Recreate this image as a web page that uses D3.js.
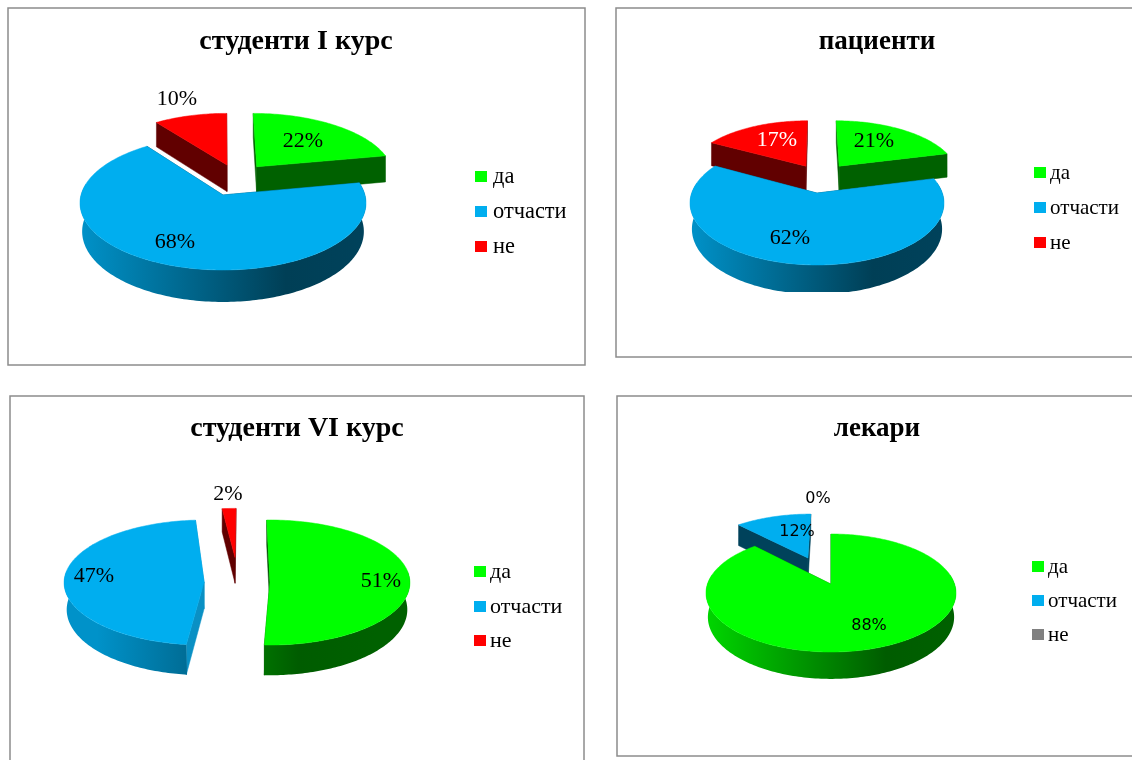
<!DOCTYPE html>
<html>
<head>
<meta charset="utf-8">
<script src="https://cdnjs.cloudflare.com/ajax/libs/d3/7.8.5/d3.min.js"></script>
<style>
  html, body { margin: 0; padding: 0; background: #fff; overflow: hidden; }
  svg { display: block; filter: blur(0.35px); }
  text { font-family: "Liberation Serif", serif; fill: #000; }
</style>
</head>
<body>
<svg id="chart" width="1132" height="760"></svg>
<script>
(function () {
    'use strict';

    // values, in percent
    var categories = ['да', 'отчасти', 'не'],
        firstYear = [22, 68, 10],
        patients = [21, 62, 17],
        sixthYear = [51, 47, 2],
        doctors = [88, 12, 0];

    var green = '#00ff00', blue = '#00aeef', red = '#ff0000', grey = '#808080';

    // du/dv: how far a slice is pulled out, in units of the pie radius
    var panels = [
        {
            title: 'студенти I курс', values: firstYear, colors: [green, blue, red],
            frame: [8, 8, 577, 357], titleAt: [296, 49], titleSize: 28,
            pie: { cx: 223, cy: 203, rx: 143, ry: 67, a: -0.12, depth: 28.5 },
            slices: [{ du: 0.25, dv: -0.45 }, { du: 0, dv: 0 }, { du: 0.03, dv: -0.48, r: 0.97 }],
            labels: [[303, 147], [175, 248], [177, 105]],
            labelSize: 22,
            legend: { x: 475, tx: 493, y: [171, 206, 241], size: 22.4 }
        },
        {
            title: 'пациенти', values: patients, colors: [green, blue, red],
            frame: [616, 8, 540, 349], titleAt: [877, 49], titleSize: 27,
            pie: { cx: 817, cy: 203, rx: 127, ry: 62, a: -0.16, depth: 26 },
            clipBottom: 292,
            slices: [{ du: 0.19, dv: -0.48 }, { du: 0, dv: 0 }, { du: -0.095, dv: -0.48 }],
            labels: [[874, 147], [790, 244], [777, 146]],
            labelFill: [null, null, '#fff'],
            labelSize: 22,
            legend: { x: 1034, tx: 1050, y: [167, 202, 237], size: 21 }
        },
        {
            title: 'студенти VI курс', values: sixthYear, colors: [green, blue, red],
            frame: [10, 396, 574, 380], titleAt: [297, 436], titleSize: 28,
            pie: { cx: 237, cy: 582.5, rx: 140, ry: 62.5, a: -0.01, depth: 27 },
            slices: [
                { du: 0.235, dv: 0, shift: -1.2, wallFill: '#004a00' },
                { du: -0.235, dv: 0, shift: 3.5, wallFill: '#0a90c4' },
                { du: -0.014, dv: -0.39, shift: 0.5, r: 0.8 }
            ],
            labels: [[381, 587], [94, 582], [228, 500]],
            labelSize: 22,
            legend: { x: 474, tx: 490, y: [566, 601, 635], size: 22 }
        },
        {
            title: 'лекари', values: doctors, colors: [green, blue, grey],
            frame: [617, 396, 540, 360], titleAt: [877, 436], titleSize: 27,
            pie: { cx: 831, cy: 593, rx: 125, ry: 59, a: -0.15, depth: 24 },
            slices: [{ du: 0, dv: 0 }, { du: -0.2, dv: -0.486 }, { du: 0, dv: -0.5 }],
            labels: [[869, 630], [797, 536], [818, 503]],
            labelFont: '"DejaVu Sans", sans-serif', labelSize: 16,
            legend: { x: 1032, tx: 1048, y: [561, 595, 629], size: 21 }
        }
    ];

    var svg = d3.select('#chart'),
        defs = svg.append('defs'),
        pie = d3.pie().sort(null).value(function (d) { return d; }),
        line = d3.line();

    function shade(color, k) {
        var c = d3.rgb(color);
        return d3.rgb(c.r * k, c.g * k, c.b * k).formatHex();
    }

    // disc -> screen; the disc automorphism keeps the rim an ellipse
    // while moving the pie centre towards the back, like the 3d chart does
    function projector(p) {
        return function (u, v) {
            var w = 1 + p.a * v,
                X = u * Math.sqrt(1 - p.a * p.a) / w,
                Y = (v + p.a) / w;
            return { x: p.cx + p.rx * X, y: p.cy + p.ry * Y, Y: Y };
        };
    }

    function drawSlice(g, arc, panel, index, gradId) {
        var p = panel.pie,
            s = panel.slices[index],
            color = panel.colors[index],
            project = projector(p),
            shift = (s.shift || 0) * Math.PI / 180,
            r = s.r || 1,
            start = arc.startAngle + shift,
            end = arc.endAngle + shift;

        function top(t, radius) {
            return project(s.du + radius * Math.sin(t), s.dv - radius * Math.cos(t));
        }
        function drop(q) {
            return q.y + p.depth * (1 + 0.12 * q.Y);
        }
        function bottom(q) {
            return [p.cx + (q.x - p.cx) * 0.985, drop(q)];
        }
        function straightDown(q) {
            return [q.x, drop(q)];
        }
        function xy(q) { return [q.x, q.y]; }

        var n = Math.max(2, Math.ceil((end - start) / 0.02)),
            rim = d3.range(n + 1).map(function (i) {
                return top(start + (end - start) * i / n, r);
            }),
            apex = top(0, 0);

        // cut faces
        var wallFill = s.wallFill || shade(color, 0.38);
        [rim[0], rim[n]].forEach(function (edge) {
            g.append('path')
                .attr('d', line([xy(apex), xy(edge), straightDown(edge), straightDown(apex)]) + 'Z')
                .attr('fill', wallFill)
                .attr('stroke', wallFill)
                .attr('stroke-width', 0.5);
        });

        // outer wall, only the part that faces the viewer
        var from = Math.max(start, 80 * Math.PI / 180),
            to = Math.min(end, 280 * Math.PI / 180);
        if (to > from) {
            var m = Math.ceil((to - from) / 0.02),
                front = d3.range(m + 1).map(function (i) {
                    return top(from + (to - from) * i / m, r);
                });
            g.append('path')
                .attr('d', line(front.map(xy).concat(front.slice().reverse().map(bottom))) + 'Z')
                .attr('fill', 'url(#' + gradId + ')');
        }

        // top surface
        g.append('path')
            .attr('d', line([xy(apex)].concat(rim.map(xy))) + 'Z')
            .attr('fill', color)
            .attr('stroke', color)
            .attr('stroke-width', 0.5);
    }

    panels.forEach(function (panel, pi) {
        var f = panel.frame,
            p = panel.pie;

        svg.append('rect')
            .attr('x', f[0]).attr('y', f[1])
            .attr('width', f[2]).attr('height', f[3])
            .attr('fill', '#fff')
            .attr('stroke', '#8c8c8c')
            .attr('stroke-width', 1.5);

        svg.append('text')
            .attr('x', panel.titleAt[0]).attr('y', panel.titleAt[1])
            .attr('text-anchor', 'middle')
            .attr('font-weight', 'bold')
            .attr('font-size', panel.titleSize)
            .text(panel.title);

        var g = svg.append('g');
        if (panel.clipBottom) {
            defs.append('clipPath').attr('id', 'clip-' + pi)
                .append('rect')
                .attr('x', f[0]).attr('y', f[1])
                .attr('width', f[2]).attr('height', panel.clipBottom - f[1]);
            g.attr('clip-path', 'url(#clip-' + pi + ')');
        }

        var arcs = pie(panel.values);
        arcs.map(function (arc, i) { return i; })
            .filter(function (i) { return panel.values[i] > 0; })
            .sort(function (a, b) { return panel.slices[a].dv - panel.slices[b].dv; })
            .forEach(function (i) {
                var id = 'wall-' + pi + '-' + i,
                    grad = defs.append('linearGradient').attr('id', id)
                        .attr('gradientUnits', 'userSpaceOnUse')
                        .attr('x1', p.cx - p.rx).attr('x2', p.cx + p.rx)
                        .attr('y1', 0).attr('y2', 0);
                grad.append('stop').attr('offset', 0).attr('stop-color', shade(panel.colors[i], 0.84));
                grad.append('stop').attr('offset', 0.72).attr('stop-color', shade(panel.colors[i], 0.36));
                grad.append('stop').attr('offset', 1).attr('stop-color', shade(panel.colors[i], 0.38));
                drawSlice(g, arcs[i], panel, i, id);
            });

        // data labels
        panel.values.forEach(function (v, i) {
            svg.append('text')
                .attr('x', panel.labels[i][0]).attr('y', panel.labels[i][1])
                .attr('text-anchor', 'middle')
                .attr('font-size', panel.labelSize || 20)
                .style('font-family', panel.labelFont || null)
                .style('fill', (panel.labelFill && panel.labelFill[i]) || null)
                .text(v + '%');
        });

        // legend
        categories.forEach(function (name, i) {
            svg.append('rect')
                .attr('x', panel.legend.x).attr('y', panel.legend.y[i])
                .attr('width', 12).attr('height', 11)
                .attr('fill', panel.colors[i]);
            svg.append('text')
                .attr('x', panel.legend.tx).attr('y', panel.legend.y[i] + 12)
                .attr('font-size', panel.legend.size)
                .text(name);
        });
    });
})();
</script>
</body>
</html>
